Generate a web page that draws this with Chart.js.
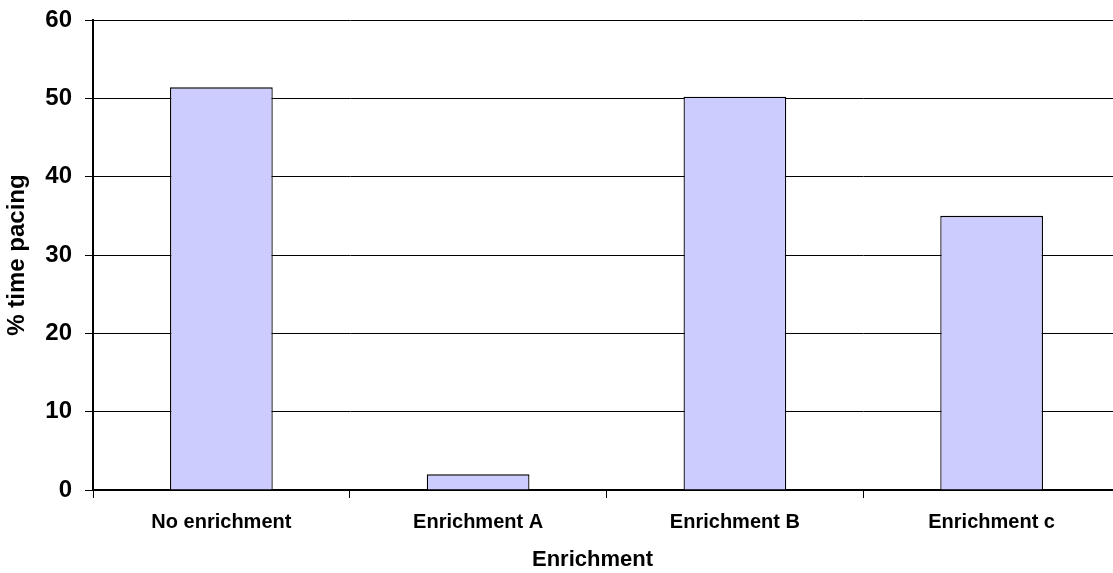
<!DOCTYPE html>
<html>
<head>
<meta charset="utf-8">
<script src="https://cdn.jsdelivr.net/npm/chart.js@4.4.0/dist/chart.umd.min.js"></script>
<style>
  html, body { margin: 0; padding: 0; background: #fff; overflow: hidden; }
  #wrap { width: 1113px; height: 573px; overflow: hidden; }
</style>
</head>
<body>
<div id="wrap"><canvas id="pacingChart" width="1120" height="573"></canvas></div>
<script>
var categories = ["No enrichment", "Enrichment A", "Enrichment B", "Enrichment c"];
var pacing = [51.4, 2.0, 50.2, 35.0];
var yTicks = [0, 10, 20, 30, 40, 50, 60];
var xTitle = "Enrichment";
var yTitle = "% time pacing";

// the plot runs a little past the right edge of the picture, so the
// x title is centred on the part that shows
var xTitlePlugin = {
  id: 'xTitle',
  afterDraw: function (chart) {
    var c = chart.ctx;
    var area = chart.chartArea;
    c.save();
    c.fillStyle = '#000000';
    c.font = 'bold 22px "Liberation Sans", Arial';
    c.textAlign = 'center';
    c.textBaseline = 'middle';
    c.fillText(xTitle, (area.left + 1092) / 2, chart.height - 13);
    c.restore();
  }
};

var ctx = document.getElementById("pacingChart");
var barChart = new Chart(ctx, {
  type: 'bar',
  data: {
    labels: categories,
    datasets: [{
      label: yTitle,
      data: pacing,
      backgroundColor: '#ccccff',
      borderColor: '#000000',
      borderWidth: 1.3,
      barPercentage: 0.4,
      categoryPercentage: 1
    }]
  },
  options: {
    responsive: false,
    animation: false,
    layout: { padding: { top: 20, right: 0, left: 3, bottom: 0 } },
    plugins: {
      legend: { display: false },
      tooltip: { enabled: false }
    },
    scales: {
      x: {
        offset: true,
        grid: {
          offset: true,
          drawOnChartArea: false,
          drawTicks: true,
          tickLength: 8,
          color: '#000000'
        },
        border: { color: '#000000', width: 2 },
        ticks: {
          color: '#000000',
          font: { family: 'Liberation Sans, Arial', size: 20, weight: 'bold' },
          padding: 12
        },
        title: { display: false },
        afterFit: function (scale) { scale.height = 83; }
      },
      y: {
        min: 0,
        max: 60,
        afterBuildTicks: function (scale) {
          scale.ticks = yTicks.map(function (v) { return { value: v }; });
        },
        grid: {
          color: '#000000',
          lineWidth: 1,
          tickLength: 8
        },
        border: { color: '#000000', width: 2 },
        ticks: {
          color: '#000000',
          font: { family: 'Liberation Sans, Arial', size: 24, weight: 'bold' },
          padding: 13
        },
        title: {
          display: true,
          text: yTitle,
          color: '#000000',
          font: { family: 'Liberation Sans, Arial', size: 24, weight: 'bold' },
          padding: { top: 0, bottom: 4 }
        },
        afterFit: function (scale) {
          scale.width = 90;
          scale.paddingTop = 0;
        }
      }
    }
  },
  plugins: [xTitlePlugin]
});
</script>
</body>
</html>
